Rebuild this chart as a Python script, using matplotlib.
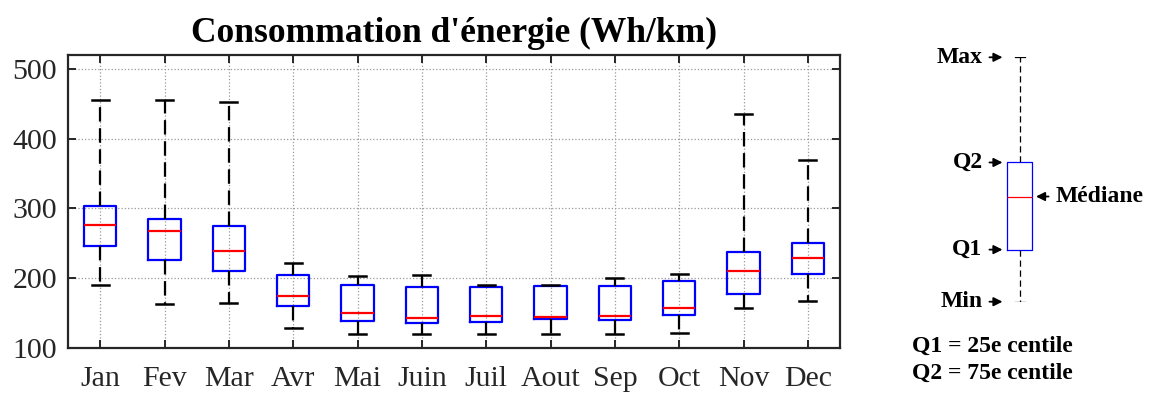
import matplotlib
matplotlib.use('Agg')
import matplotlib.pyplot as plt

plt.rcParams['font.family'] = ['Liberation Serif', 'DejaVu Serif']

# valeurs (Wh/km)
mois = ['Jan', 'Fev', 'Mar', 'Avr', 'Mai', 'Juin', 'Juil', 'Aout', 'Sep', 'Oct', 'Nov', 'Dec']
vmin = [190, 163, 164, 129, 120, 120, 120, 120, 120, 121, 157, 168]
q1 = [246, 226, 211, 160, 138, 136, 137, 142, 140, 148, 177, 206]
mediane = [277, 267, 239, 174, 150, 143, 146, 145, 146, 157, 211, 229]
q3 = [304, 285, 275, 205, 190, 188, 187, 189, 189, 196, 238, 250]
vmax = [455, 456, 453, 222, 203, 205, 190, 191, 200, 206, 436, 369]

# boite exemple pour la legende
leg_labels = ['Min', 'Q1', 'Médiane', 'Q2', 'Max']
leg_vals = [0, 5.2, 10.5, 13.9, 24.4]

gris = '#262626'

fig = plt.figure(figsize=(11.54, 3.94), dpi=100)
ax = fig.add_axes([68/1154, 1-348/394, (840-68)/1154, (348-55)/394])

stats = []
for i in range(len(mois)):
    stats.append(dict(whislo=vmin[i], q1=q1[i], med=mediane[i], q3=q3[i], whishi=vmax[i], fliers=[]))

ax.bxp(stats, positions=range(1, len(mois)+1), widths=0.5, capwidths=0.26,
       boxprops=dict(color='blue', lw=1.6),
       medianprops=dict(color='red', lw=1.6),
       whiskerprops=dict(color='black', lw=1.6, linestyle=(0, (6.5, 3))),
       capprops=dict(color='black', lw=1.8))

ax.set_xlim(0.5, 12.5)
ax.set_ylim(100, 520)
ax.set_yticks([100, 200, 300, 400, 500])
ax.set_xticks(range(1, 13))
ax.set_xticklabels(mois)
ax.grid(True, linestyle=':', color='#999999', lw=0.9)
ax.tick_params(direction='in', length=6, width=1.4, top=True, right=True,
               labelsize=21.5, colors=gris, pad=8)
ax.tick_params(axis='x', pad=13)
for s in ax.spines.values():
    s.set_linewidth(1.6)
    s.set_color(gris)
ax.set_title("Consommation d'énergie (Wh/km)", fontsize=25.5, fontweight='bold', pad=9)

# legende explicative
ax2 = fig.add_axes([(1019.5-50)/1154, 1-301.7/394, 100/1154, (301.7-57.3)/394])
leg_stat = dict(whislo=leg_vals[0], q1=leg_vals[1], med=leg_vals[2], q3=leg_vals[3],
                whishi=leg_vals[4], fliers=[])
ax2.bxp([leg_stat], positions=[0], widths=0.5, capwidths=0.2,
        boxprops=dict(color='blue', lw=0.9),
        medianprops=dict(color='red', lw=0.9),
        whiskerprops=dict(color='black', lw=0.9, linestyle=(0, (5, 3))),
        capprops=dict(color='black', lw=0.9))
ax2.set_xlim(-1, 1)
ax2.set_ylim(leg_vals[0], leg_vals[-1])
ax2.axis('off')

fleche = dict(arrowstyle='-|>', color='black', lw=1.3, mutation_scale=13, shrinkA=3, shrinkB=0)
for lab, v in zip(leg_labels, leg_vals):
    if lab == 'Médiane':
        ax2.annotate(lab, xy=(0.33, v), xytext=(0.72, v), ha='left', va='center',
                     fontsize=17, fontweight='bold', arrowprops=fleche, annotation_clip=False)
    else:
        ax2.annotate(lab, xy=(-0.34, v), xytext=(-0.74, v), ha='right', va='center',
                     fontsize=17, fontweight='bold', arrowprops=fleche, annotation_clip=False)

fig.text(912/1154, 1-346/394, 'Q1 = 25e centile', fontsize=17, fontweight='bold', va='center')
fig.text(912/1154, 1-373/394, 'Q2 = 75e centile', fontsize=17, fontweight='bold', va='center')

fig.savefig('out.png', dpi=100)
